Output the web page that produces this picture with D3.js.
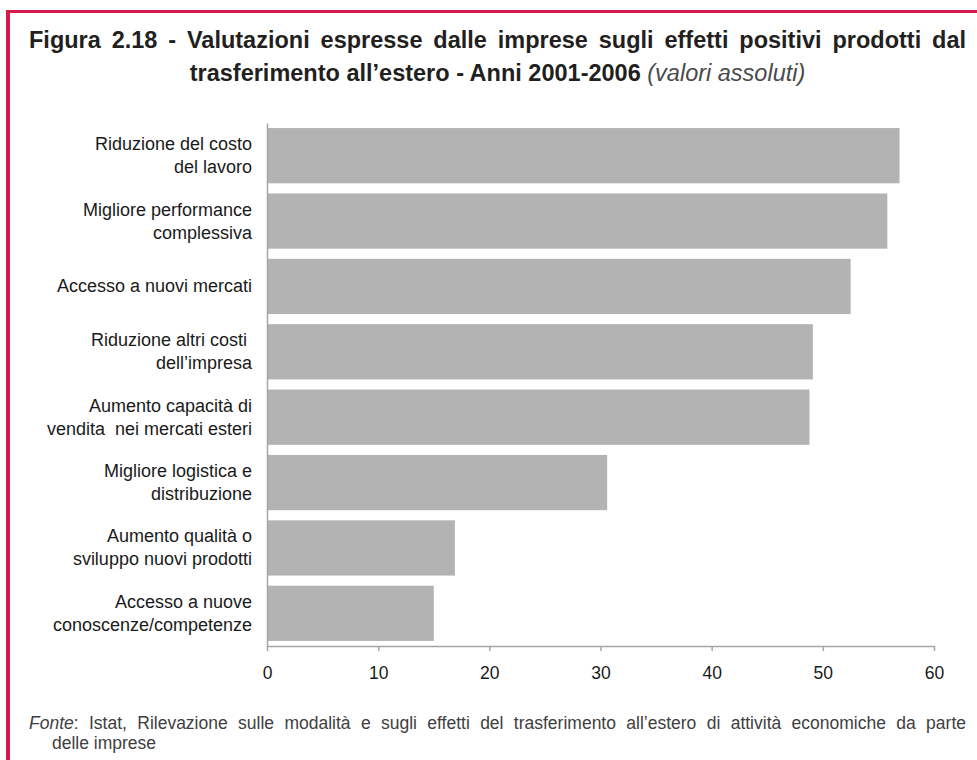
<!DOCTYPE html>
<html>
<head>
<meta charset="utf-8">
<script src="https://cdn.jsdelivr.net/npm/d3@7"></script>
<style>
  html, body { margin: 0; padding: 0; background: #fff; }
  svg { display: block; font-family: "Liberation Sans", Arial, Helvetica, sans-serif; }
</style>
</head>
<body>
<svg id="chart" width="977" height="760"></svg>
<script>
// ---- data ----
const categories = [
  "Riduzione del costo\ndel lavoro",
  "Migliore performance\ncomplessiva",
  "Accesso a nuovi mercati",
  "Riduzione altri costi \ndell\u2019impresa",
  "Aumento capacità di\nvendita  nei mercati esteri",
  "Migliore logistica e\ndistribuzione",
  "Aumento qualità o\nsviluppo nuovi prodotti",
  "Accesso a nuove\nconoscenze/competenze"
];
const values = [56.9, 55.8, 52.5, 49.1, 48.8, 30.6, 16.9, 15.0];
const xTicks = [0, 10, 20, 30, 40, 50, 60];
const titleLine1 = "Figura 2.18 - Valutazioni espresse dalle imprese sugli effetti positivi prodotti dal";
const titleLine2Bold = "trasferimento all\u2019estero - Anni 2001-2006 ";
const titleLine2Italic = "(valori assoluti)";
const sourceLabel = "Fonte";
const sourceLine1 = ": Istat, Rilevazione sulle modalità e sugli effetti del trasferimento all\u2019estero di attività economiche da parte";
const sourceLine2 = "delle imprese";

// ---- layout ----
const svg = d3.select("#chart");
const W = 977, H = 760;
const plot = { left: 267, right: 934, top: 123, bottom: 646 };
const textLeft = 29, textRight = 966;

// frame (red L-shaped border)
svg.append("rect").attr("x", 6).attr("y", 10).attr("width", W - 6).attr("height", 3).attr("fill", "#d51a4c");
svg.append("rect").attr("x", 6).attr("y", 10).attr("width", 4).attr("height", H - 10).attr("fill", "#d51a4c");

function justify(sel, target) {
  const node = sel.node();
  const w = node.getComputedTextLength();
  const gaps = (node.textContent.match(/ /g) || []).length;
  if (w < target && gaps > 0) {
    sel.style("word-spacing", ((target - w) / gaps) + "px");
  } else if (w > target) {
    sel.attr("textLength", target).attr("lengthAdjust", "spacingAndGlyphs");
  }
}

// title
const titleSize = 23.5;
const t1 = svg.append("text")
  .attr("x", textLeft).attr("y", 48)
  .attr("font-size", titleSize).attr("font-weight", "bold").attr("fill", "#231f20")
  .text(titleLine1);
justify(t1, textRight - textLeft);

const t2 = svg.append("text")
  .attr("x", (textLeft + textRight) / 2).attr("y", 81)
  .attr("text-anchor", "middle").attr("font-size", titleSize).attr("fill", "#231f20")
  .style("white-space", "pre");
t2.append("tspan").attr("font-weight", "bold").text(titleLine2Bold);
t2.append("tspan").attr("font-style", "italic").attr("fill", "#4a4a4a").text(titleLine2Italic);

// scales
const x = d3.scaleLinear().domain([0, 60]).range([plot.left, plot.right]);
const y = d3.scaleBand().domain(categories).range([plot.top, plot.bottom]).paddingInner(0.155).paddingOuter(0.0775);

// bars
svg.append("g").selectAll("rect").data(values).join("rect")
  .attr("x", x(0) + 1)
  .attr("y", (d, i) => y(categories[i]))
  .attr("width", d => x(d) - x(0) - 1)
  .attr("height", y.bandwidth())
  .attr("fill", "#b3b3b3");

// axes
const axisColor = "#a6a6a6";
const xAxis = svg.append("g").attr("transform", `translate(0,${plot.bottom})`)
  .call(d3.axisBottom(x).tickValues(xTicks).tickSize(5).tickSizeOuter(0).tickPadding(16));
xAxis.select(".domain").attr("stroke", axisColor).attr("stroke-width", 1.5);
xAxis.selectAll(".tick line").attr("stroke", axisColor).attr("stroke-width", 1.5);
xAxis.selectAll(".tick text").attr("font-size", 17.5).attr("fill", "#1a1a1a")
  .attr("font-family", "Liberation Sans, Arial, sans-serif");

const yAxis = svg.append("g").attr("transform", `translate(${plot.left},0)`)
  .call(d3.axisLeft(y).tickSize(0).tickSizeOuter(0).tickFormat(""));
yAxis.select(".domain").attr("stroke", axisColor).attr("stroke-width", 1.5);

// category labels (multi-line, right aligned)
const lineH = 23;
const labels = svg.append("g");
categories.forEach(cat => {
  const lines = cat.split("\n");
  const cy = y(cat) + y.bandwidth() / 2;
  const txt = labels.append("text")
    .attr("text-anchor", "end").attr("font-size", 18).attr("fill", "#1a1a1a")
    .style("white-space", "pre");
  lines.forEach((ln, i) => {
    txt.append("tspan")
      .attr("x", 252)
      .attr("y", cy + (i - (lines.length - 1) / 2) * lineH + 6)
      .text(ln);
  });
});

// source note
const s1 = svg.append("text")
  .attr("x", textLeft).attr("y", 729)
  .attr("font-size", 17.5).attr("fill", "#404040");
s1.append("tspan").attr("font-style", "italic").text(sourceLabel);
s1.append("tspan").text(sourceLine1);
justify(s1, textRight - textLeft);

svg.append("text")
  .attr("x", 52).attr("y", 749)
  .attr("font-size", 17.5).attr("fill", "#404040")
  .text(sourceLine2);
</script>
</body>
</html>
